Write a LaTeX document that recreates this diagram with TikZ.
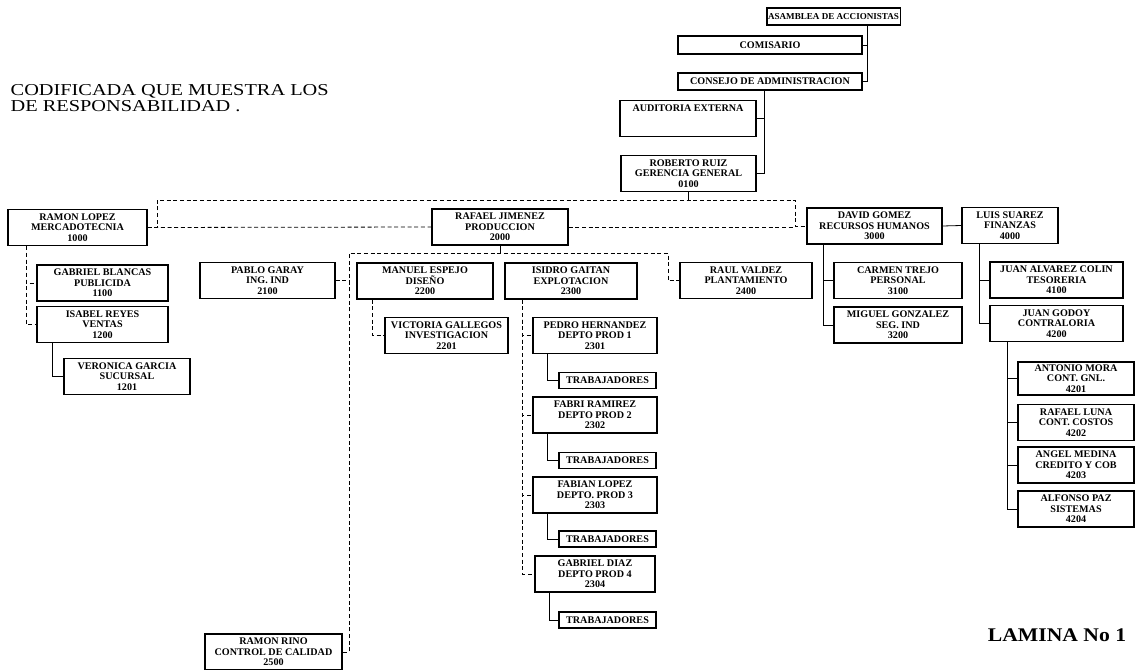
\documentclass[tikz,border=0pt]{standalone}
\usepackage{fontspec}
\setmainfont{Liberation Serif}
\usetikzlibrary{calc}
\tikzset{
  caja/.style={draw,line width=1.1pt,font=\fontsize{7.6}{8}\selectfont\bfseries,align=center,inner sep=1pt,minimum height=27pt},
  linea/.style={line width=0.6pt},
  tenue/.style={line width=0.6pt,densely dashed}
}
\begin{document}
\begin{tikzpicture}[x=0.75pt,y=-0.75pt]
   \useasboundingbox (0,0) rectangle (1137,670);
   \node[caja,minimum width=100pt,minimum height=13pt,font=\fontsize{6.8}{8}\selectfont\bfseries] (asamblea) at (833.5,16.5) {ASAMBLEA DE ACCIONISTAS};
   \node[caja,minimum width=138pt,minimum height=13.5pt] (comisario) at (770,45) {COMISARIO};
   \node[caja,minimum width=138pt,minimum height=13pt] (consejo) at (770,81.5) {CONSEJO DE ADMINISTRACION};
   \node[caja,minimum width=102pt] (auditoria) at (688,118.5) {AUDITORIA EXTERNA\\\mbox{}\\\mbox{}};
   \node[caja,minimum width=101pt] (roberto) at (688.5,173.5) {ROBERTO RUIZ\\GERENCIA GENERAL\\0100};
   \node[caja,minimum width=104pt] (rlopez) at (77.5,227.5) {RAMON LOPEZ\\MERCADOTECNIA\\1000};
   \node[caja,minimum width=98pt] (gblancas) at (102.5,283) {GABRIEL BLANCAS\\PUBLICIDA\\1100};
   \node[caja,minimum width=98pt] (ireyes) at (102.5,324.5) {ISABEL REYES\\VENTAS\\1200};
   \node[caja,minimum width=94.5pt] (vgarcia) at (127,376.5) {VERONICA GARCIA\\SUCURSAL\\1201};
   \node[caja,minimum width=101pt] (pgaray) at (267.5,280.5) {PABLO GARAY\\ING. IND\\2100};
   \node[caja,minimum width=102pt] (rjimenez) at (500,227) {RAFAEL JIMENEZ\\PRODUCCION\\2000};
   \node[caja,minimum width=102pt] (mespejo) at (425,281) {MANUEL ESPEJO\\DISEÑO\\2200};
   \node[caja,minimum width=92pt] (vgallegos) at (446.5,335.5) {VICTORIA GALLEGOS\\INVESTIGACION\\2201};
   \node[caja,minimum width=99pt] (igaitan) at (571,281) {ISIDRO GAITAN\\EXPLOTACION\\2300};
   \node[caja,minimum width=99pt] (rvaldez) at (746,280.5) {RAUL VALDEZ\\PLANTAMIENTO\\2400};
   \node[caja,minimum width=93pt] (phernandez) at (595,335.5) {PEDRO HERNANDEZ\\DEPTO PROD 1\\2301};
   \node[caja,minimum width=73pt,minimum height=12pt] (trabA) at (607.5,380.5) {TRABAJADORES};
   \node[caja,minimum width=93pt] (framirez) at (595,415) {FABRI RAMIREZ\\DEPTO PROD 2\\2302};
   \node[caja,minimum width=73pt,minimum height=12pt] (trabB) at (607.5,460.5) {TRABAJADORES};
   \node[caja,minimum width=93pt] (flopez) at (595,495) {FABIAN LOPEZ\\DEPTO. PROD 3\\2303};
   \node[caja,minimum width=73pt,minimum height=12pt] (trabC) at (607.5,539) {TRABAJADORES};
   \node[caja,minimum width=90pt] (gdiaz) at (595,574) {GABRIEL DIAZ\\DEPTO PROD 4\\2304};
   \node[caja,minimum width=73pt,minimum height=12pt] (trabD) at (607.5,620) {TRABAJADORES};
   \node[caja,minimum width=103pt] (rrino) at (273.5,652) {RAMON RINO\\CONTROL DE CALIDAD\\2500};
   \node[caja,minimum width=101pt] (dgomez) at (874.5,226) {DAVID GOMEZ\\RECURSOS HUMANOS\\3000};
   \node[caja,minimum width=96pt] (ctrejo) at (898,280.5) {CARMEN TREJO\\PERSONAL\\3100};
   \node[caja,minimum width=96pt] (mgonzalez) at (898,325) {MIGUEL GONZALEZ\\SEG. IND\\3200};
   \node[caja,minimum width=72pt] (lsuarez) at (1010,225.5) {LUIS SUAREZ\\FINANZAS\\4000};
   \node[caja,minimum width=100pt] (jalvarez) at (1056.5,280) {JUAN ALVAREZ COLIN\\TESORERIA\\4100};
   \node[caja,minimum width=100pt] (jgodoy) at (1056.5,323.5) {JUAN GODOY\\CONTRALORIA\\4200};
   \node[caja,minimum width=87pt,minimum height=25pt] (amora) at (1076,378.5) {ANTONIO MORA\\CONT. GNL.\\4201};
   \node[caja,minimum width=87pt] (rluna) at (1076,422.5) {RAFAEL LUNA\\CONT. COSTOS\\4202};
   \node[caja,minimum width=87pt] (amedina) at (1076,465) {ANGEL MEDINA\\CREDITO Y COB\\4203};
   \node[caja,minimum width=87pt] (apaz) at (1076,509) {ALFONSO PAZ\\SISTEMAS\\4204};
   \node[anchor=north west,align=left,font=\fontsize{12.5}{12}\selectfont] (titulo) at (6,80) {\scalebox{1.22}[1]{CODIFICADA QUE MUESTRA LOS}\\\scalebox{1.22}[1]{DE RESPONSABILIDAD .}};
   \node[font=\fontsize{14.5}{16}\selectfont\bfseries] (lamina) at (1057,635) {\scalebox{1.12}[1]{LAMINA No 1}};
   \coordinate (busL) at (157,200); \coordinate (busR) at (795,200);
   \coordinate (pbusL) at (349,253); \coordinate (pbusR) at (668,253);
   \draw[linea] ($(asamblea.south)+(34,0)$) |- (consejo.east); \draw[linea] ($(asamblea.south)+(34,0)$) |- (comisario.east);
   \draw[linea] ($(consejo.south)+(-6,0)$) |- (roberto.east); \draw[linea] ($(consejo.south)+(-6,0)$) |- (auditoria.east);
   \draw[linea] (roberto.south) -- (roberto.south |- busL);
   \draw[tenue] (rlopez.east) -| (busL) -- (busR) |- (dgomez.west);
   \draw[tenue] (rlopez.east) -- (rjimenez.west); \draw[tenue] (rjimenez.east) -- (rjimenez.east -| busR);
   \draw[linea] (dgomez.east) -- (lsuarez.west);
   \draw[tenue] ($(rlopez.south west)+(19,0)$) |- (ireyes.west); \draw[tenue] ($(rlopez.south west)+(19,0)$) |- (gblancas.west);
   \draw[linea] ($(ireyes.south west)+(16,0)$) |- (vgarcia.west);
   \draw[linea] (rjimenez.south) -- (rjimenez.south |- pbusL);
   \draw[tenue] (rrino.east) -| (pbusL) -- (pbusR) |- (rvaldez.west);
   \draw[tenue] (pgaray.east) -- (pgaray.east -| pbusL);
   \draw[tenue] ($(mespejo.south west)+(16,0)$) |- (vgallegos.west);
   \draw[tenue] ($(igaitan.south west)+(18,0)$) |- (gdiaz.west);
   \draw[tenue] ($(igaitan.south west)+(18,0)$) |- (phernandez.west); \draw[tenue] ($(igaitan.south west)+(18,0)$) |- (framirez.west); \draw[tenue] ($(igaitan.south west)+(18,0)$) |- (flopez.west);
   \draw[linea] ($(phernandez.south west)+(15,0)$) |- (trabA.west); \draw[linea] ($(framirez.south west)+(15,0)$) |- (trabB.west);
   \draw[linea] ($(flopez.south west)+(15,0)$) |- (trabC.west); \draw[linea] ($(gdiaz.south west)+(15,0)$) |- (trabD.west);
   \draw[linea] ($(dgomez.south west)+(17,0)$) |- (mgonzalez.west); \draw[linea] ($(dgomez.south west)+(17,0)$) |- (ctrejo.west);
   \draw[linea] ($(lsuarez.south west)+(18,0)$) |- (jgodoy.west); \draw[linea] ($(lsuarez.south west)+(18,0)$) |- (jalvarez.west);
   \draw[linea] ($(jgodoy.south west)+(18,0)$) |- (apaz.west); \draw[linea] ($(jgodoy.south west)+(18,0)$) |- (amora.west);
   \draw[linea] ($(jgodoy.south west)+(18,0)$) |- (rluna.west); \draw[linea] ($(jgodoy.south west)+(18,0)$) |- (amedina.west);
  \end{tikzpicture}
\end{document}
